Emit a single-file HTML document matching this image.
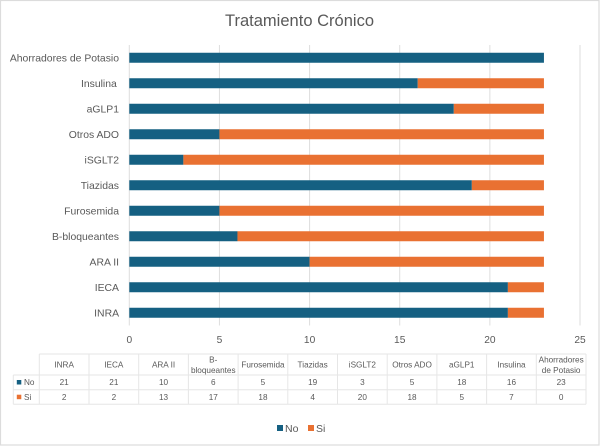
<!DOCTYPE html>
<html lang="es">
<head>
<meta charset="utf-8">
<title>Tratamiento Crónico</title>
<style>
html,body{margin:0;padding:0;background:#fff;}
body{width:600px;height:446px;overflow:hidden;}
svg{display:block;font-family:"Liberation Sans",sans-serif;filter:blur(0.3px);}
</style>
</head>
<body>
<svg id="chart" xmlns="http://www.w3.org/2000/svg" width="600" height="446" viewBox="0 0 600 446">
<rect x="0.5" y="0.5" width="598.5" height="444.5" fill="#ffffff" stroke="#dcdcdc" stroke-width="1.2"/>
<text x="299.5" y="26" text-anchor="middle" font-size="16.5" fill="#595959" textLength="149">Tratamiento Crónico</text>
<g id="grid"></g>
<g id="bars"></g>
<g id="ylabels"></g>
<g id="xlabels"></g>
<g id="table"></g>
<g>
<rect x="277" y="425" width="6" height="6" fill="#156082"/>
<text x="285" y="432" font-size="10.5" fill="#595959">No</text>
<rect x="308" y="425" width="6" height="6" fill="#E97132"/>
<text x="316" y="432" font-size="10.5" fill="#595959">Si</text>
</g>
</svg>
<script>
const categories = ["INRA","IECA","ARA II","B-bloqueantes","Furosemida","Tiazidas","iSGLT2","Otros ADO","aGLP1","Insulina","Ahorradores de Potasio"];
const tableHeaders = [["INRA"],["IECA"],["ARA II"],["B-","bloqueantes"],["Furosemida"],["Tiazidas"],["iSGLT2"],["Otros ADO"],["aGLP1"],["Insulina"],["Ahorradores","de Potasio"]];
const seriesNo = [21,21,10,6,5,19,3,5,18,16,23];
const seriesSi = [2,2,13,17,18,4,20,18,5,7,0];
const xTicks = [0,5,10,15,20,25];

const NS = "http://www.w3.org/2000/svg";
const BLUE = "#156082", ORANGE = "#E97132", TEXT = "#595959", LINE = "#dedede";
const plotLeft = 129.3, plotRight = 580, plotTop = 45, plotBottom = 325.5;
const xMax = xTicks[xTicks.length - 1];
function xScale(v) { return plotLeft + v / xMax * (plotRight - plotLeft); }
function yScale(i) { return plotBottom - (i + 0.5) * (plotBottom - plotTop) / categories.length; }
const barH = 10;

function make(tag, attrs, parent, txt) {
  const el = document.createElementNS(NS, tag);
  for (const k in attrs) el.setAttribute(k, attrs[k]);
  if (txt !== undefined) el.textContent = txt;
  parent.appendChild(el);
  return el;
}

const grid = document.getElementById("grid");
const xlabels = document.getElementById("xlabels");
xTicks.forEach(function (t) {
  const ln = make("line", {x1: xScale(t), x2: xScale(t), y1: plotTop, y2: plotBottom, stroke: LINE, "stroke-width": 1}, grid);
  
  
  const lb = make("text", {x: xScale(t), y: 342.8, "text-anchor": "middle", "font-size": 10.2, fill: TEXT}, xlabels, String(t));
  
  
});

const bars = document.getElementById("bars");
const ylabels = document.getElementById("ylabels");
categories.forEach(function (c, i) {
  const cy = yScale(i);
  const b1 = make("rect", {x: xScale(0), y: cy - barH / 2, width: xScale(seriesNo[i]) - xScale(0), height: barH, fill: BLUE}, bars);
  
  
  const b2 = make("rect", {x: xScale(seriesNo[i]), y: cy - barH / 2, width: xScale(seriesNo[i] + seriesSi[i]) - xScale(seriesNo[i]), height: barH, fill: ORANGE}, bars);
  
  
  const anchorX = c === "Insulina" ? 116.8 : 119;
  const lb = make("text", {x: anchorX, y: cy + 3.6, "text-anchor": "end", "font-size": 10.4, fill: TEXT}, ylabels, c);
  
  
});

/* data table */
const table = document.getElementById("table");
const tLeft = 13.3, tCols = 39.3, tRight = 586;
const tY = [354, 375, 389.7, 404.3];
const colW = (tRight - tCols) / categories.length;
const TLINE = "#e6e6e6";
function tline(x1, y1, x2, y2) {
  const l = make("line", {x1: x1, y1: y1, x2: x2, y2: y2, stroke: TLINE, "stroke-width": 1}, table);
  
  
}
tline(tCols, tY[0], tRight, tY[0]);
tline(tLeft, tY[1], tRight, tY[1]);
tline(tLeft, tY[2], tRight, tY[2]);
tline(tLeft, tY[3], tRight, tY[3]);
tline(tLeft, tY[1], tLeft, tY[3]);
for (let i = 0; i <= categories.length; i++) {
  tline(tCols + i * colW, tY[0], tCols + i * colW, tY[3]);
}
tableHeaders.forEach(function (lines, i) {
  const cx = tCols + (i + 0.5) * colW;
  lines.forEach(function (s, j) {
    const yy = lines.length === 1 ? 367.3 : 362.3 + j * 10.7;
    const h = make("text", {x: cx, y: yy, "text-anchor": "middle", "font-size": 8.2, fill: TEXT}, table, s);
    
    
  });
  const a = make("text", {x: cx, y: 385.2, "text-anchor": "middle", "font-size": 8.2, fill: TEXT}, table, String(seriesNo[i]));
  
  
  const b = make("text", {x: cx, y: 399.8, "text-anchor": "middle", "font-size": 8.2, fill: TEXT}, table, String(seriesSi[i]));
  
  
});
const k1 = make("rect", {x: 16.8, y: 380, width: 4.5, height: 4.5, fill: BLUE}, table);


const t1 = make("text", {x: 24, y: 385.2, "font-size": 8.2, fill: TEXT}, table, "No");


const k2 = make("rect", {x: 16.8, y: 394.7, width: 4.5, height: 4.5, fill: ORANGE}, table);


const t2 = make("text", {x: 24, y: 399.8, "font-size": 8.2, fill: TEXT}, table, "Si");


</script>
</body>
</html>
